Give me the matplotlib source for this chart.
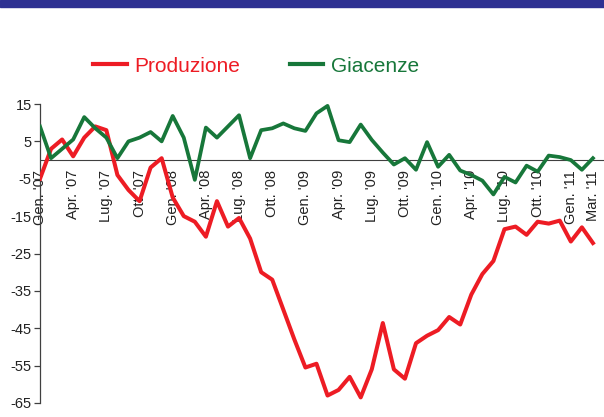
import matplotlib
matplotlib.use("Agg")
import matplotlib.pyplot as plt
from matplotlib.lines import Line2D
from matplotlib.patches import Rectangle

plt.rcParams["font.family"] = ["Liberation Sans", "DejaVu Sans"]

# monthly, Gen. '07 .. Mar. '11
months = list(range(51))
produzione = [
    -5, 3, 5.5, 1, 6, 9, 8, -4, -8, -11,
    -2, 0.5, -10, -15, -16.5, -20.5, -11, -17.8, -15.5, -21,
    -30, -32, -40, -48, -55.5, -54.5, -63, -61.5, -58, -63.5,
    -56, -43.6, -56, -58.5, -49, -47, -45.5, -42, -44, -36,
    -30.5, -27, -18.5, -17.8, -20, -16.5, -17, -16.2, -21.8, -18,
    -22.2,
]
giacenze = [
    9, 0.5, 3, 5.5, 11.5, 8.5, 6, 0.5, 5, 6,
    7.5, 5, 11.8, 6, -5.3, 8.7, 6, 9, 12, 0.5,
    8, 8.5, 9.8, 8.5, 7.8, 12.5, 14.5, 5.3, 4.8, 9.5,
    5.4, 2, -1.2, 0.5, -2.6, 4.8, -1.8, 1.4, -2.8, -4,
    -5.5, -9.2, -4.5, -6, -1.5, -3.1, 1.2, 0.8, 0, -2.6,
    0.5,
]
tick_pos = [0, 3, 6, 9, 12, 15, 18, 21, 24, 27, 30, 33, 36, 39, 42, 45, 48, 50]
tick_labels = [
    "Gen. '07", "Apr. '07", "Lug. '07", "Ott. '07",
    "Gen. '08", "Apr. '08", "Lug. '08", "Ott. '08",
    "Gen. '09", "Apr. '09", "Lug. '09", "Ott. '09",
    "Gen. '10", "Apr. '10", "Lug. '10", "Ott. '10",
    "Gen. '11", "Mar. '11",
]
y_ticks = [15, 5, -5, -15, -25, -35, -45, -55, -65]

RED = "#ED1C24"
GREEN = "#17773A"
AXIS = "#404040"

fig = plt.figure(figsize=(6.04, 4.17), dpi=100)
fig.patches.append(Rectangle((0, 1 - 7 / 417), 1, 7 / 417, transform=fig.transFigure,
                             color="#2E3192", zorder=0))

ax = fig.add_axes([40 / 604, 14 / 417, 564 / 604, 299 / 417])
ax.plot(months, produzione, color=RED, lw=2.9, solid_joinstyle="round", zorder=4)
ax.plot(months, giacenze, color=GREEN, lw=2.7, solid_joinstyle="round", zorder=4)
ax.axhline(0, color=AXIS, lw=0.8, zorder=2)

ax.set_xlim(0, 51)
ax.set_ylim(-65, 15)
ax.set_yticks(y_ticks)
ax.set_yticklabels([str(v) for v in y_ticks], fontsize=10.5, color="#222222")
ax.set_xticks([])
ax.tick_params(axis="y", length=4, width=0.9, color=AXIS, pad=2)
for s in ("top", "right", "bottom"):
    ax.spines[s].set_visible(False)
ax.spines["left"].set_color(AXIS)
ax.spines["left"].set_linewidth(0.9)

# category labels hang under the zero line
for x, lab in zip(tick_pos, tick_labels):
    ax.annotate(lab, xy=(x, 0), xytext=(0, -10), textcoords="offset pixels",
                rotation=90, ha="center", va="top", fontsize=10.5,
                color="#222222", zorder=1)

handles = [Line2D([], [], color=RED, lw=3), Line2D([], [], color=GREEN, lw=3)]
fig.legend(handles, ["Produzione", "Giacenze"], loc="center",
           bbox_to_anchor=(256 / 604, 1 - 66 / 417), ncol=2, frameon=False,
           fontsize=15, handlelength=1.6, handletextpad=0.35, columnspacing=2.4,
           labelcolor="linecolor")

fig.savefig("out.png", dpi=100)
